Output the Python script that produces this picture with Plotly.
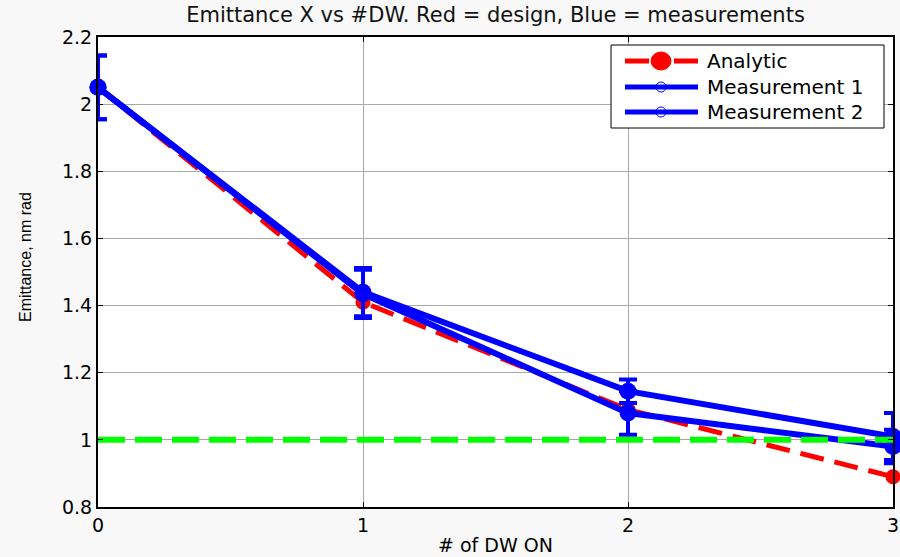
import plotly.graph_objects as go

# ---- data -------------------------------------------------------------
dw_on = [0, 1, 2, 3]
analytic = [2.05, 1.41, 1.09, 0.89]
meas1 = [2.05, 1.44, 1.145, 1.01]
meas1_err = [0.095, 0.072, 0.035, 0.07]
meas2 = [2.05, 1.435, 1.08, 0.98]
meas2_err = [0.095, 0.072, 0.065, 0.05]
target_level = 1.0
x_ticks = [0, 1, 2, 3]
y_ticks = [0.8, 1.0, 1.2, 1.4, 1.6, 1.8, 2.0, 2.2]
y_ticktext = ["0.8", "1", "1.2", "1.4", "1.6", "1.8", "2", "2.2"]
legend_labels = ["Analytic", "Measurement 1", "Measurement 2"]

RED = "#ff0000"
BLUE = "#0000ff"
GREEN = "#00ff00"
FONT = "DejaVu Sans"

W, H = 900, 557
ML, MR, MT, MB = 98, 7, 37, 50
PW, PH = W - ML - MR, H - MT - MB


def px_x(px):
    return (px - ML) / PW


def px_y(py):
    return (H - MB - py) / PH


fig = go.Figure()

fig.add_trace(go.Scatter(
    x=dw_on, y=analytic, mode="lines+markers", name=legend_labels[0],
    line=dict(color=RED, width=5, dash="24px,11px"),
    marker=dict(symbol="circle", size=15, color=RED),
    cliponaxis=False, showlegend=False))

for ys, err, name in [(meas1, meas1_err, legend_labels[1]),
                      (meas2, meas2_err, legend_labels[2])]:
    fig.add_trace(go.Scatter(
        x=dw_on, y=ys, mode="lines+markers", name=name,
        line=dict(color=BLUE, width=6),
        marker=dict(symbol="circle", size=17, color=BLUE),
        error_y=dict(type="data", array=err, color=BLUE, thickness=4, width=9),
        cliponaxis=False, showlegend=False))

fig.add_trace(go.Scatter(
    x=[x_ticks[0], x_ticks[-1]], y=[target_level, target_level], mode="lines",
    line=dict(color=GREEN, width=6, dash="27px,10px"), showlegend=False))

# ---- hand-built legend box --------------------------------------------
shapes = [dict(type="rect", xref="paper", yref="paper",
               x0=px_x(611), x1=px_x(884), y0=px_y(128), y1=px_y(45),
               line=dict(color="black", width=1), fillcolor="white", layer="above")]
annotations = []
rows = [61, 87, 112]
styles = [(RED, "24px,25px", 9, True), (BLUE, "solid", 5, False), (BLUE, "solid", 5, False)]
for row, (col, dash, r, filled), label in zip(rows, styles, legend_labels):
    shapes.append(dict(type="line", xref="paper", yref="paper",
                       x0=px_x(625), x1=px_x(698), y0=px_y(row), y1=px_y(row),
                       line=dict(color=col, width=5, dash=dash), layer="above"))
    shapes.append(dict(type="circle", xref="paper", yref="paper",
                       xsizemode="pixel", ysizemode="pixel",
                       xanchor=px_x(661), yanchor=px_y(row),
                       x0=-r - (1 if filled else 0), x1=r + (1 if filled else 0), y0=-r, y1=r,
                       line=dict(color=col, width=1),
                       fillcolor=col if filled else "rgba(0,0,0,0)", layer="above"))
    annotations.append(dict(xref="paper", yref="paper", x=px_x(705), y=px_y(row),
                            xanchor="left", yanchor="middle", showarrow=False,
                            text=label, font=dict(family=FONT, size=20, color="black")))

# y-axis caption placed as a rotated annotation
annotations.append(dict(xref="paper", yref="paper", x=px_x(25), y=px_y(257),
                        xanchor="center", yanchor="middle", showarrow=False, textangle=-90,
                        text="Emittance, nm rad",
                        font=dict(family="Liberation Sans", size=16, color="black")))

fig.update_layout(
    width=W, height=H,
    margin=dict(l=ML, r=MR, t=MT, b=MB, autoexpand=False),
    paper_bgcolor="#f8f8f8", plot_bgcolor="white",
    title=dict(text="Emittance X vs #DW. Red = design, Blue = measurements",
               x=(ML + PW / 2) / W, xanchor="center", y=1 - 15 / H, yanchor="middle",
               font=dict(family=FONT, size=21, color="#111111")),
    shapes=shapes, annotations=annotations,
    showlegend=False,
)
fig.update_xaxes(
    range=[x_ticks[0], x_ticks[-1]], tickvals=x_ticks, automargin=False,
    showline=True, linecolor="black", linewidth=2, mirror="allticks",
    ticks="inside", ticklen=5, tickcolor="black",
    showgrid=True, gridcolor="#a8a8a8", gridwidth=1, zeroline=False,
    tickfont=dict(family=FONT, size=19, color="black"),
    title=dict(text="# of DW ON", font=dict(family=FONT, size=19, color="black"), standoff=4),
)
fig.update_yaxes(
    range=[y_ticks[0], y_ticks[-1]], tickvals=y_ticks, ticktext=y_ticktext, automargin=False,
    showline=True, linecolor="black", linewidth=2, mirror="allticks",
    ticks="inside", ticklen=5, tickcolor="black",
    showgrid=True, gridcolor="#a8a8a8", gridwidth=1, zeroline=False,
    tickfont=dict(family=FONT, size=19, color="black"),
)

fig.write_html("out.html")
